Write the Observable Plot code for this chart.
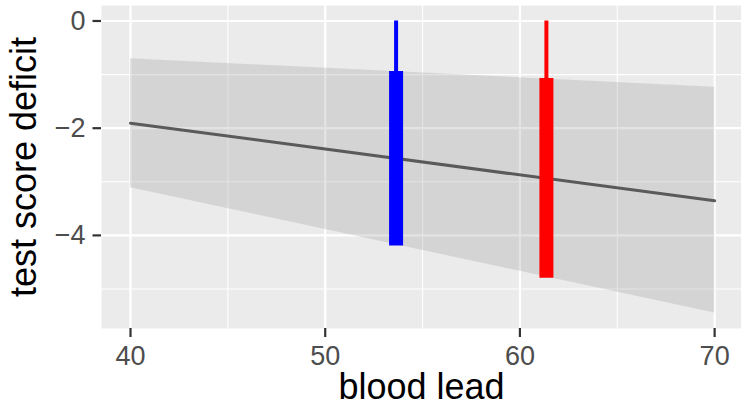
<!DOCTYPE html>
<html>
<head>
<meta charset="utf-8">
<script src="https://cdn.jsdelivr.net/npm/d3@7"></script>
<script src="https://cdn.jsdelivr.net/npm/@observablehq/plot@0.6"></script>
<style>
  html, body { margin: 0; padding: 0; background: #fff; }
  #chart svg { font-family: "Liberation Sans", Arial, Helvetica, sans-serif; }
  #chart g[aria-label="x-axis tick"], #chart g[aria-label="y-axis tick"] { stroke: #333333; }
  #chart g[aria-label="x-axis tick label"], #chart g[aria-label="y-axis tick label"] { fill: #4D4D4D; }
</style>
</head>
<body>
<div id="chart"></div>
<script>
// Fitted line and confidence band
const fitLead = [40, 70];
const fitValue = [-1.906, -3.355];
const bandLower = [-3.11, -5.45];
const bandUpper = [-0.705, -1.235];

// Intervals
const barLead = [53.64, 61.36];
const barTop = [0, 0];
const barInnerTop = [-0.942, -1.073];
const barInnerBottom = [-4.20, -4.80];
const barColor = ["#0000FF", "#FF0000"];

// Ticks
const xMajor = [40, 50, 60, 70];
const xMinor = [45, 55, 65];
const yMajor = [0, -2, -4];
const yMinor = [-1, -3, -5];

const fit = fitLead.map((x, i) => ({x, y: fitValue[i], lo: bandLower[i], hi: bandUpper[i]}));
const bars = barLead.map((x, i) => ({x, top: barTop[i], t: barInnerTop[i], b: barInnerBottom[i], c: barColor[i]}));

const fmt = d => d < 0 ? "\u2212" + (-d) : String(d);

const chart = Plot.plot({
  width: 741,
  height: 417,
  marginLeft: 101,
  marginRight: 0,
  marginTop: 5,
  marginBottom: 89,
  style: {color: "#4D4D4D", background: "#ffffff"},
  x: {domain: [38.51, 71.38]},
  y: {domain: [-5.737, 0.289]},
  marks: [
    Plot.frame({fill: "#EBEBEB", stroke: null}),
    Plot.ruleX(xMinor, {stroke: "white", strokeWidth: 1.1}),
    Plot.ruleY(yMinor, {stroke: "white", strokeWidth: 1.1}),
    Plot.ruleX(xMajor, {stroke: "white", strokeWidth: 2.2}),
    Plot.ruleY(yMajor, {stroke: "white", strokeWidth: 2.2}),
    Plot.areaY(fit, {x: "x", y1: "lo", y2: "hi", fill: "#999999", fillOpacity: 0.28}),
    Plot.line(fit, {x: "x", y: "y", stroke: "#5A5A5A", strokeWidth: 3}),
    Plot.ruleX(bars, {x: "x", y1: "top", y2: "t", stroke: "c", strokeWidth: 4}),
    Plot.ruleX(bars, {x: "x", y1: "t", y2: "b", stroke: "c", strokeWidth: 14}),
    Plot.axisX(xMajor, {tickSize: 9, tickPadding: 8, fontSize: 27, label: null, strokeWidth: 2.2}),
    Plot.axisY(yMajor, {tickSize: 8.5, tickPadding: 7.5, fontSize: 27, label: null, tickFormat: fmt, strokeWidth: 2.2}),
    Plot.text(["blood lead"], {frameAnchor: "bottom", dy: 70.5, fontSize: 36, fill: "#000000", textAnchor: "middle"}),
    Plot.text(["test score deficit"], {frameAnchor: "left", dx: -77.5, rotate: -90, fontSize: 36, fill: "#000000", textAnchor: "middle"})
  ]
});
document.getElementById("chart").appendChild(chart);
</script>
</body>
</html>
